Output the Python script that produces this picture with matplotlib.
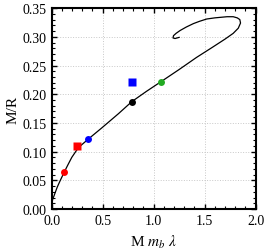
import matplotlib
matplotlib.use("Agg")
import matplotlib.pyplot as plt
from matplotlib.ticker import MultipleLocator

plt.rcParams["font.family"] = ["Liberation Serif", "DejaVu Serif"]
plt.rcParams["mathtext.fontset"] = "stix"

# curve
curve_x = [0.008, 0.002, 0.004, 0.012, 0.022, 0.034, 0.055, 0.083, 0.123, 0.16, 0.198,
           0.263, 0.361, 0.49, 0.655, 0.786, 0.93, 1.074, 1.25, 1.42, 1.57, 1.70, 1.78,
           1.83, 1.852, 1.845, 1.82, 1.78, 1.72, 1.66, 1.60, 1.52, 1.45, 1.39, 1.32,
           1.26, 1.22, 1.195, 1.19, 1.21, 1.25]
curve_y = [0.001, 0.005, 0.011, 0.018, 0.022, 0.028, 0.038, 0.049, 0.064, 0.077, 0.090,
           0.107, 0.122, 0.141, 0.166, 0.187, 0.205, 0.222, 0.243, 0.264, 0.281, 0.296, 0.306,
           0.315, 0.324, 0.330, 0.333, 0.335, 0.335, 0.334, 0.333, 0.331, 0.327, 0.323, 0.317,
           0.311, 0.306, 0.302, 0.298, 0.297, 0.299]

circle_x = [0.123, 0.361, 0.786, 1.074]
circle_y = [0.064, 0.122, 0.187, 0.222]
circle_c = ["#ff0000", "#0000ff", "#000000", "#22aa22"]

square_x = [0.253, 0.792]
square_y = [0.109, 0.221]
square_c = ["#ff0000", "#0000ff"]

fig = plt.figure(figsize=(2.66, 2.53), dpi=100)
ax = fig.add_axes([0.194, 0.170, 0.767, 0.794])

ax.plot(curve_x, curve_y, color="black", lw=0.9, zorder=2)
for x, y, c in zip(circle_x, circle_y, circle_c):
    ax.plot(x, y, "o", color=c, ms=5, mec="none", zorder=3)
for x, y, c in zip(square_x, square_y, square_c):
    ax.plot(x, y, "s", color=c, ms=5.5, mec="none", zorder=3)

ax.set_xlim(0, 2.0)
ax.set_ylim(0, 0.35)
ax.xaxis.set_major_locator(MultipleLocator(0.5))
ax.xaxis.set_minor_locator(MultipleLocator(0.1))
ax.yaxis.set_major_locator(MultipleLocator(0.05))
ax.yaxis.set_minor_locator(MultipleLocator(0.01))
ax.xaxis.set_major_formatter(plt.FormatStrFormatter("%.1f"))
ax.yaxis.set_major_formatter(plt.FormatStrFormatter("%.2f"))
ax.tick_params(which="both", direction="in", top=True, right=True, labelsize=10)
ax.tick_params(which="major", length=3.5, width=1)
ax.tick_params(which="minor", length=2, width=0.8)
ax.grid(True, which="major", color="#c8c8c8", ls=":", lw=0.7)
for s in ax.spines.values():
    s.set_linewidth(1.5)

ax.set_xlabel(r"M $m_b\ \lambda$", fontsize=11, labelpad=4)
ax.set_ylabel("M/R", fontsize=11, labelpad=2)

fig.savefig("out.png", dpi=100)
